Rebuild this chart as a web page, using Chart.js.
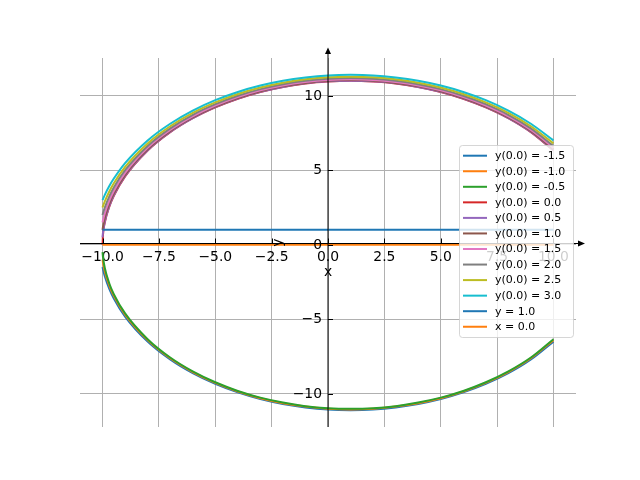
<!DOCTYPE html>
<html>
<head>
<meta charset="utf-8">
<script src="https://cdn.jsdelivr.net/npm/chart.js@4.4.1/dist/chart.umd.min.js"></script>
<style>
  html, body { margin: 0; padding: 0; background: #fff; }
</style>
</head>
<body>
<canvas id="grafica" width="640" height="480"></canvas>
<script>
// valores
const xs = [-10, -9.98, -9.9, -9.7, -9.5, -9, -8, -7, -6, -5, -4, -3, -2, -1, 0, 1, 2, 3, 4, 5, 6, 7, 8, 9, 10];

const yM15 = [-1.5, -1.64, -2.11, -2.96, -3.61, -4.82, -6.5, -7.70, -8.62, -9.34, -9.91, -10.36, -10.69, -10.92, -11.06, -11.10, -11.06, -10.92, -10.69, -10.36, -9.91, -9.34, -8.62, -7.70, -6.5];
const yM10 = [-1, -1.2, -1.79, -2.74, -3.43, -4.69, -6.40, -7.62, -8.54, -9.27, -9.85, -10.30, -10.63, -10.86, -11.0, -11.05, -11.0, -10.86, -10.63, -10.30, -9.85, -9.27, -8.54, -7.62, -6.40];
const yM05 = [-0.5, -0.83, -1.56, -2.60, -3.32, -4.61, -6.34, -7.57, -8.50, -9.23, -9.81, -10.26, -10.59, -10.83, -10.97, -11.01, -10.97, -10.83, -10.59, -10.26, -9.81, -9.23, -8.50, -7.57, -6.34];
const y00 = [0, 0.66, 1.48, 2.55, 3.28, 4.58, 6.32, 7.55, 8.49, 9.22, 9.80, 10.25, 10.58, 10.82, 10.95, 11.0, 10.95, 10.82, 10.58, 10.25, 9.80, 9.22, 8.49, 7.55, 6.32];
const y05 = [0.5, 0.83, 1.56, 2.60, 3.32, 4.61, 6.34, 7.57, 8.50, 9.23, 9.81, 10.26, 10.59, 10.83, 10.97, 11.01, 10.97, 10.83, 10.59, 10.26, 9.81, 9.23, 8.50, 7.57, 6.34];
const y10 = [1, 1.2, 1.79, 2.74, 3.43, 4.69, 6.40, 7.62, 8.54, 9.27, 9.85, 10.30, 10.63, 10.86, 11.0, 11.05, 11.0, 10.86, 10.63, 10.30, 9.85, 9.27, 8.54, 7.62, 6.40];
const y15 = [1.5, 1.64, 2.11, 2.96, 3.61, 4.82, 6.5, 7.70, 8.62, 9.34, 9.91, 10.36, 10.69, 10.92, 11.06, 11.10, 11.06, 10.92, 10.69, 10.36, 9.91, 9.34, 8.62, 7.70, 6.5];
const y20 = [2, 2.11, 2.49, 3.24, 3.84, 5, 6.63, 7.81, 8.72, 9.43, 10, 10.44, 10.77, 11, 11.14, 11.18, 11.14, 11, 10.77, 10.44, 10, 9.43, 8.72, 7.81, 6.63];
const y25 = [2.5, 2.59, 2.91, 3.57, 4.12, 5.22, 6.80, 7.95, 8.85, 9.55, 10.11, 10.55, 10.87, 11.10, 11.24, 11.28, 11.24, 11.10, 10.87, 10.55, 10.11, 9.55, 8.85, 7.95, 6.80];
const y30 = [3, 3.07, 3.35, 3.94, 4.44, 5.48, 7, 8.12, 9, 9.70, 10.25, 10.68, 11, 11.22, 11.36, 11.40, 11.36, 11.22, 11, 10.68, 10.25, 9.70, 9, 8.12, 7];

// rectas horizontales
const lineaX = [-10, 10];
const lineaY1 = [1, 1];
const lineaY0 = [0, 0];

const etiquetas = ['y(0.0) = -1.5', 'y(0.0) = -1.0', 'y(0.0) = -0.5', 'y(0.0) = 0.0', 'y(0.0) = 0.5',
  'y(0.0) = 1.0', 'y(0.0) = 1.5', 'y(0.0) = 2.0', 'y(0.0) = 2.5', 'y(0.0) = 3.0', 'y = 1.0', 'x = 0.0'];
const colores = ['#1f77b4', '#ff7f0e', '#2ca02c', '#d62728', '#9467bd', '#8c564b',
  '#e377c2', '#7f7f7f', '#bcbd22', '#17becf', '#1f77b4', '#ff7f0e'];

const xTicks = [-10, -7.5, -5, -2.5, 0, 2.5, 5, 7.5, 10];
const yTicks = [-10, -5, 0, 5, 10];

const FUENTE = 'DejaVu Sans';

function puntos(xv, yv) {
    return xv.map((x, i) => ({x: x, y: yv[i]}));
}

const series = [
    puntos(xs, yM15), puntos(xs, yM10), puntos(xs, yM05), puntos(xs, y00), puntos(xs, y05),
    puntos(xs, y10), puntos(xs, y15), puntos(xs, y20), puntos(xs, y25), puntos(xs, y30),
    puntos(lineaX, lineaY1), puntos(lineaX, lineaY0)
];

const datasets = series.map((d, i) => ({
    label: etiquetas[i],
    data: d,
    borderColor: colores[i],
    backgroundColor: colores[i],
    borderWidth: 2,
    pointRadius: 0,
    showLine: true,
    cubicInterpolationMode: 'monotone',
    order: series.length - i   // el ultimo encima, como matplotlib
}));

function menos(s) {
    return s.replace('-', '\u2212');
}

// ejes con flechas, marcas hacia dentro y etiquetas x / y
const ejesPlugin = {
    id: 'ejes',
    afterDatasetsDraw(chart) {
        const {ctx, chartArea, scales} = chart;
        const x0 = scales.x.getPixelForValue(0);
        const y0 = scales.y.getPixelForValue(0);
        const ys = Math.floor(y0) - 0.5;
        ctx.save();
        ctx.strokeStyle = '#000';
        ctx.fillStyle = '#000';
        ctx.lineWidth = 1;
        ctx.beginPath();
        ctx.moveTo(chartArea.left, ys);
        ctx.lineTo(chartArea.right + 3, ys);
        ctx.moveTo(x0, chartArea.bottom);
        ctx.lineTo(x0, chartArea.top - 5);
        ctx.stroke();
        // flechas
        ctx.beginPath();
        ctx.moveTo(chartArea.right + 9, ys);
        ctx.lineTo(chartArea.right + 2, ys - 3);
        ctx.lineTo(chartArea.right + 2, ys + 3);
        ctx.closePath();
        ctx.fill();
        ctx.beginPath();
        ctx.moveTo(x0, chartArea.top - 10.5);
        ctx.lineTo(x0 - 3, chartArea.top - 4);
        ctx.lineTo(x0 + 3, chartArea.top - 4);
        ctx.closePath();
        ctx.fill();
        // marcas
        ctx.beginPath();
        xTicks.forEach(v => {
            const px = Math.round(scales.x.getPixelForValue(v)) + 0.5;
            ctx.moveTo(px, ys);
            ctx.lineTo(px, ys - 5);
        });
        yTicks.forEach(v => {
            const py = Math.round(scales.y.getPixelForValue(v)) + 0.5;
            ctx.moveTo(x0, py);
            ctx.lineTo(x0 + 5, py);
        });
        ctx.stroke();
        // etiquetas del eje y
        ctx.font = '13.9px "' + FUENTE + '"';
        ctx.textAlign = 'right';
        ctx.textBaseline = 'middle';
        yTicks.forEach(v => {
            ctx.fillText(menos(String(v)), x0 - 6, scales.y.getPixelForValue(v) + 0.5);
        });
        // etiquetas de los ejes
        ctx.textAlign = 'center';
        ctx.fillText('x', x0, y0 + 28);
        ctx.translate(278, y0 - 2);
        ctx.rotate(-Math.PI / 2);
        ctx.fillText('y', 0, 0);
        ctx.restore();
    },
    afterDraw(chart) {
        const {ctx} = chart;
        const bx = 459, by = 145, bw = 114, bh = 192;
        ctx.save();
        ctx.fillStyle = 'rgba(255,255,255,0.8)';
        ctx.strokeStyle = 'rgba(204,204,204,0.8)';
        ctx.lineWidth = 1;
        ctx.beginPath();
        ctx.roundRect(bx + 0.5, by + 0.5, bw, bh, 3);
        ctx.fill();
        ctx.stroke();
        ctx.font = '11px "' + FUENTE + '"';
        ctx.textBaseline = 'middle';
        ctx.textAlign = 'left';
        chart.data.datasets.forEach((ds, i) => {
            const cy = 155.7 + i * 15.55;
            ctx.strokeStyle = ds.borderColor;
            ctx.lineWidth = 2;
            ctx.beginPath();
            ctx.moveTo(463, cy);
            ctx.lineTo(487, cy);
            ctx.stroke();
            ctx.fillStyle = '#000';
            ctx.fillText(ds.label, 495, cy + 0.5);
        });
        ctx.restore();
    }
};

window.onload = function () {
    const ctx = document.getElementById('grafica').getContext('2d');
    new Chart(ctx, {
        type: 'scatter',
        data: {datasets: datasets},
        options: {
            responsive: false,
            animation: false,
            layout: {padding: {left: 80, top: 58, right: 64, bottom: 53}},
            plugins: {legend: {display: false}, tooltip: {enabled: false}},
            scales: {
                x: {
                    type: 'linear',
                    min: -11,
                    max: 11,
                    position: {y: 0},
                    afterBuildTicks: axis => { axis.ticks = xTicks.map(v => ({value: v})); },
                    ticks: {
                        callback: v => menos(v.toFixed(1)),
                        color: '#000',
                        font: {family: FUENTE, size: 13.9},
                        padding: 4,
                        maxRotation: 0,
                        autoSkip: false
                    },
                    grid: {color: '#b0b0b0', lineWidth: 1, drawTicks: false},
                    border: {display: false}
                },
                y: {
                    type: 'linear',
                    min: -12.23,
                    max: 12.53,
                    position: {x: 0},
                    afterBuildTicks: axis => { axis.ticks = yTicks.map(v => ({value: v})); },
                    ticks: {display: false},
                    grid: {color: '#b0b0b0', lineWidth: 1, drawTicks: false},
                    border: {display: false}
                }
            }
        },
        plugins: [ejesPlugin]
    });
};
</script>
</body>
</html>
